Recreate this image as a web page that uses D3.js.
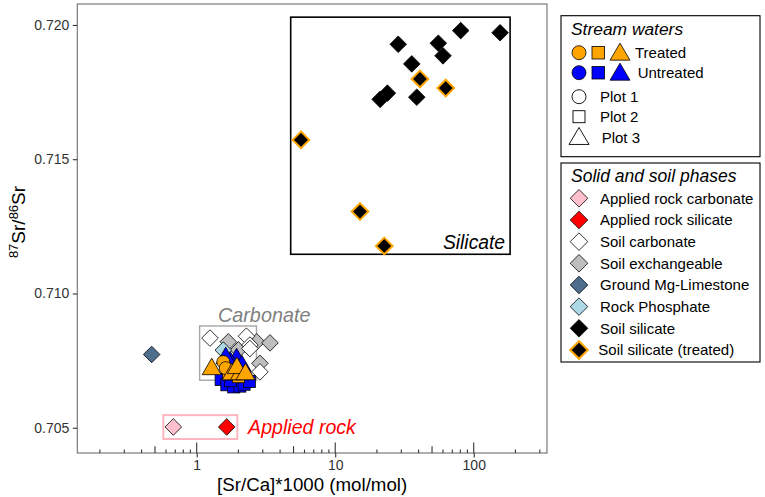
<!DOCTYPE html>
<html><head><meta charset="utf-8">
<script src="https://cdn.jsdelivr.net/npm/d3@7"></script>
<style>body{margin:0;background:#fff} svg{font-family:"Liberation Sans",Arial,Helvetica,sans-serif}</style>
</head><body><svg id="c" width="765" height="497"></svg>
<script>
// ---- data ----
const xTickValues = [1, 10, 100];
const xTickLabels = ["1", "10", "100"];
const yTickValues = [0.705, 0.710, 0.715, 0.720];
const yTickLabels = ["0.705", "0.710", "0.715", "0.720"];

const appliedRockCarbonate = [[0.678, 0.70503]];
const appliedRockSilicate = [[1.647, 0.70503]];
const soilCarbonate = [[1.247, 0.70834], [2.285, 0.70841], [2.42, 0.70808], [2.42, 0.70795], [2.86, 0.70708]];
const soilExchangeable = [[1.69, 0.70820], [2.71, 0.70820], [3.38, 0.70816], [2.86, 0.70740], [2.0, 0.70790]];
const groundMgLimestone = [[0.473, 0.70773]];
const rockPhosphate = [[1.556, 0.70789]];
const soilSilicate = [[28.5, 0.71928], [55.5, 0.71932], [60, 0.71885], [80.5, 0.71979], [155, 0.71971], [35.7, 0.71855], [38.8, 0.71731], [21.1, 0.71723], [23.8, 0.71746]];
const soilSilicateTreated = [[40.9, 0.71799], [62.8, 0.71765], [5.66, 0.71572], [15.1, 0.71305], [22.6, 0.71177]];

// stream waters
const untreatedPlot1 = [[1.72, 0.70735]];
const untreatedPlot2 = [[1.50, 0.70680], [1.65, 0.70660], [1.85, 0.70652], [2.05, 0.70655], [2.2, 0.70662], [2.4, 0.70672], [1.75, 0.70675]];
const untreatedPlot3 = [[1.94, 0.70758], [1.75, 0.70745], [2.12, 0.70732], [1.62, 0.70762]];
const treatedPlot1 = [[1.556, 0.70745], [1.62, 0.70722]];
const treatedPlot2 = [[1.70, 0.70700], [2.0, 0.70690]];
const treatedPlot3 = [[1.283, 0.70721], [1.79, 0.70702], [2.05, 0.70702], [1.95, 0.70725], [2.25, 0.70702]];

const carbonateBox = {x: [1.05, 2.70], y: [0.70677, 0.70879]};
const silicateBox = {x: [4.77, 183], y: [0.71146, 0.72029]};
const appliedBox = {x: [0.574, 1.965], y: [0.70458, 0.70547]};

// ---- layout ----
const svg = d3.select("#c");
const L = 77.3, R = 547, T = 4, B = 453;
const x = d3.scaleLog().domain([0.1374, 338]).range([L, R]);
const y = d3.scaleLinear().domain([0.70406, 0.72078]).range([B, T]);

const cOrange = "#FFA500", cBlue = "#0000FF";

function diamondPath(cx, cy, r) { return `M${cx},${cy-r}L${cx+r},${cy}L${cx},${cy+r}L${cx-r},${cy}Z`; }
function triPath(cx, cy, w, h) { return `M${cx},${cy-h*0.62}L${cx+w/2},${cy+h*0.38}L${cx-w/2},${cy+h*0.38}Z`; }

// boxes
function rectBox(b, stroke, sw) {
  svg.append("rect").attr("x", x(b.x[0])).attr("y", y(b.y[1]))
    .attr("width", x(b.x[1]) - x(b.x[0])).attr("height", y(b.y[0]) - y(b.y[1]))
    .attr("fill", "none").attr("stroke", stroke).attr("stroke-width", sw);
}
rectBox(silicateBox, "#000", 1.6);
rectBox(carbonateBox, "#A6A6A6", 1.4);
rectBox(appliedBox, "#FFB6C1", 2);

// annotations
svg.append("text").attr("x", x(silicateBox.x[1]) - 5).attr("y", y(silicateBox.y[0]) - 5)
  .attr("text-anchor", "end").attr("font-style", "italic").attr("font-size", 19.3).text("Silicate");
svg.append("text").attr("x", x(1.425)).attr("y", y(0.70879) - 4.3)
  .attr("font-style", "italic").attr("font-size", 19.8).attr("fill", "#808080").text("Carbonate");
svg.append("text").attr("x", x(2.35)).attr("y", y(0.70503) + 7.5)
  .attr("font-style", "italic").attr("font-size", 19.6).attr("fill", "#FF0000").text("Applied rock");

// diamonds
function diamonds(data, fill, stroke, sw) {
  svg.append("g").selectAll("path").data(data).join("path")
    .attr("d", d => diamondPath(x(d[0]), y(d[1]), 8.3))
    .attr("fill", fill).attr("stroke", stroke).attr("stroke-width", sw);
}
diamonds(soilExchangeable, "#BEBEBE", "#000", 0.8);
diamonds(soilCarbonate, "#FFFFFF", "#000", 0.8);
diamonds(groundMgLimestone, "#4E6E8E", "#000", 0.8);
diamonds(rockPhosphate, "#ADD8E6", "#000", 0.8);
diamonds(appliedRockCarbonate, "#FFC0CB", "#000", 0.8);
diamonds(appliedRockSilicate, "#FF0000", "#000", 0.8);
diamonds(soilSilicate, "#000", "#000", 0.8);
diamonds(soilSilicateTreated, "#000", cOrange, 2);

// stream waters
function circles(data, fill) {
  svg.append("g").selectAll("circle").data(data).join("circle")
    .attr("cx", d => x(d[0])).attr("cy", d => y(d[1])).attr("r", 6.5)
    .attr("fill", fill).attr("stroke", "#000").attr("stroke-width", 0.8);
}
function squares(data, fill) {
  svg.append("g").selectAll("rect").data(data).join("rect")
    .attr("x", d => x(d[0]) - 6).attr("y", d => y(d[1]) - 6).attr("width", 12).attr("height", 12)
    .attr("fill", fill).attr("stroke", "#000").attr("stroke-width", 0.8);
}
function triangles(data, fill) {
  svg.append("g").selectAll("path").data(data).join("path")
    .attr("d", d => triPath(x(d[0]), y(d[1]), 19, 16.5))
    .attr("fill", fill).attr("stroke", "#000").attr("stroke-width", 0.8);
}
squares(untreatedPlot2, cBlue);
circles(untreatedPlot1, cBlue);
triangles(untreatedPlot3, cBlue);
squares(treatedPlot2, cOrange);
circles(treatedPlot1, cOrange);
triangles(treatedPlot3, cOrange);

// panel border
svg.append("rect").attr("x", L).attr("y", T).attr("width", R - L).attr("height", B - T)
  .attr("fill", "none").attr("stroke", "#6E6E6E").attr("stroke-width", 1.1);

// axes
const xAxis = d3.axisBottom(x).tickValues(xTickValues).tickFormat((d, i) => xTickLabels[i]).tickSize(4.5).tickPadding(3);
const gx = svg.append("g").attr("transform", `translate(0,${B})`).call(xAxis);
gx.select(".domain").remove();
gx.selectAll("line").attr("stroke", "#333").attr("stroke-width", 1.1);
gx.selectAll("text").attr("font-size", 14).attr("fill", "#333").attr("font-family", "Liberation Sans, Arial, sans-serif");

const yAxis = d3.axisLeft(y).tickValues(yTickValues).tickFormat((d, i) => yTickLabels[i]).tickSize(4.5).tickPadding(3.5);
const gy = svg.append("g").attr("transform", `translate(${L},0)`).call(yAxis);
gy.select(".domain").remove();
gy.selectAll("line").attr("stroke", "#333").attr("stroke-width", 1.1);
gy.selectAll("text").attr("font-size", 14).attr("fill", "#333").attr("font-family", "Liberation Sans, Arial, sans-serif");

// log ticks inside bottom
const logTicks = [];
for (let e = -1; e <= 2; e++) for (let m = 1; m <= 9; m++) {
  const v = m * Math.pow(10, e);
  if (v >= x.domain()[0] && v <= x.domain()[1]) logTicks.push(v);
}
svg.append("g").selectAll("line").data(logTicks).join("line")
  .attr("x1", d => x(d)).attr("x2", d => x(d))
  .attr("y1", B).attr("y2", d => {
    const m = Math.round(d / Math.pow(10, Math.floor(Math.log10(d) + 1e-9)));
    return B - (m === 1 ? 10.5 : m === 5 ? 6.8 : 3.4);
  })
  .attr("stroke", "#333").attr("stroke-width", 1.1);

// axis titles
svg.append("text").attr("x", (L + R) / 2).attr("y", 491).attr("text-anchor", "middle")
  .attr("font-size", 18.7).text("[Sr/Ca]*1000 (mol/mol)");
const yt = svg.append("text").attr("transform", "translate(25,222) rotate(-90)").attr("text-anchor", "middle").attr("font-size", 19);
yt.append("tspan").attr("baseline-shift", "super").attr("font-size", 13).text("87");
yt.append("tspan").text("Sr/");
yt.append("tspan").attr("baseline-shift", "super").attr("font-size", 13).text("86");
yt.append("tspan").text("Sr");

// ---- legend 1 ----
const streamLegendRows = ["Treated", "Untreated"];
const plotLegendRows = ["Plot 1", "Plot 2", "Plot 3"];
const lg1 = svg.append("g");
lg1.append("rect").attr("x", 561).attr("y", 15.7).attr("width", 199).attr("height", 141)
  .attr("fill", "#fff").attr("stroke", "#000").attr("stroke-width", 1.1);
lg1.append("text").attr("x", 571).attr("y", 35).attr("font-style", "italic").attr("font-size", 17.4).text("Stream waters");
[[cOrange, 52.7, 635], [cBlue, 72.7, 637.7]].forEach((r, i) => {
  const [col, cy, tx] = r;
  lg1.append("circle").attr("cx", 579).attr("cy", cy).attr("r", 7).attr("fill", col).attr("stroke", "#000").attr("stroke-width", 0.8);
  lg1.append("rect").attr("x", 592).attr("y", cy - 6.3).attr("width", 12.6).attr("height", 12.6).attr("fill", col).attr("stroke", "#000").attr("stroke-width", 0.8);
  lg1.append("path").attr("d", triPath(620, cy + 1, 20, 17)).attr("fill", col).attr("stroke", "#000").attr("stroke-width", 0.8);
  lg1.append("text").attr("x", tx).attr("y", cy + 5.5).attr("font-size", 15).text(streamLegendRows[i]);
});
lg1.append("circle").attr("cx", 579).attr("cy", 96.7).attr("r", 7).attr("fill", "none").attr("stroke", "#000").attr("stroke-width", 0.9);
lg1.append("rect").attr("x", 573).attr("y", 110.7).attr("width", 12).attr("height", 12).attr("fill", "none").attr("stroke", "#000").attr("stroke-width", 0.9);
lg1.append("path").attr("d", triPath(579, 138, 20, 17)).attr("fill", "none").attr("stroke", "#000").attr("stroke-width", 0.9);
[[96.7, 600], [116.7, 600], [137.3, 601.7]].forEach((r, i) => {
  lg1.append("text").attr("x", r[1]).attr("y", r[0] + 5.5).attr("font-size", 15).text(plotLegendRows[i]);
});

// ---- legend 2 ----
const phaseLabels = ["Applied rock carbonate", "Applied rock silicate", "Soil carbonate", "Soil exchangeable", "Ground Mg-Limestone", "Rock Phosphate", "Soil silicate", "Soil silicate (treated)"];
const phaseFills = ["#FFC0CB", "#FF0000", "#FFFFFF", "#BEBEBE", "#4E6E8E", "#ADD8E6", "#000000", "#000000"];
const phaseStrokes = ["#000", "#000", "#000", "#000", "#000", "#000", "#000", cOrange];
const lg2 = svg.append("g");
lg2.append("rect").attr("x", 561).attr("y", 163).attr("width", 199).attr("height", 199)
  .attr("fill", "#fff").attr("stroke", "#000").attr("stroke-width", 1.1);
lg2.append("text").attr("x", 571).attr("y", 182).attr("font-style", "italic").attr("font-size", 17.5).text("Solid and soil phases");
phaseLabels.forEach((lab, i) => {
  const cy = 198.3 + i * 21.67;
  lg2.append("path").attr("d", diamondPath(579, cy, 8.8)).attr("fill", phaseFills[i])
    .attr("stroke", phaseStrokes[i]).attr("stroke-width", i === 7 ? 2 : 0.8);
  lg2.append("text").attr("x", i === 7 ? 598.3 : 600).attr("y", cy + 5.5).attr("font-size", 15).text(lab);
});
</script></body></html>
